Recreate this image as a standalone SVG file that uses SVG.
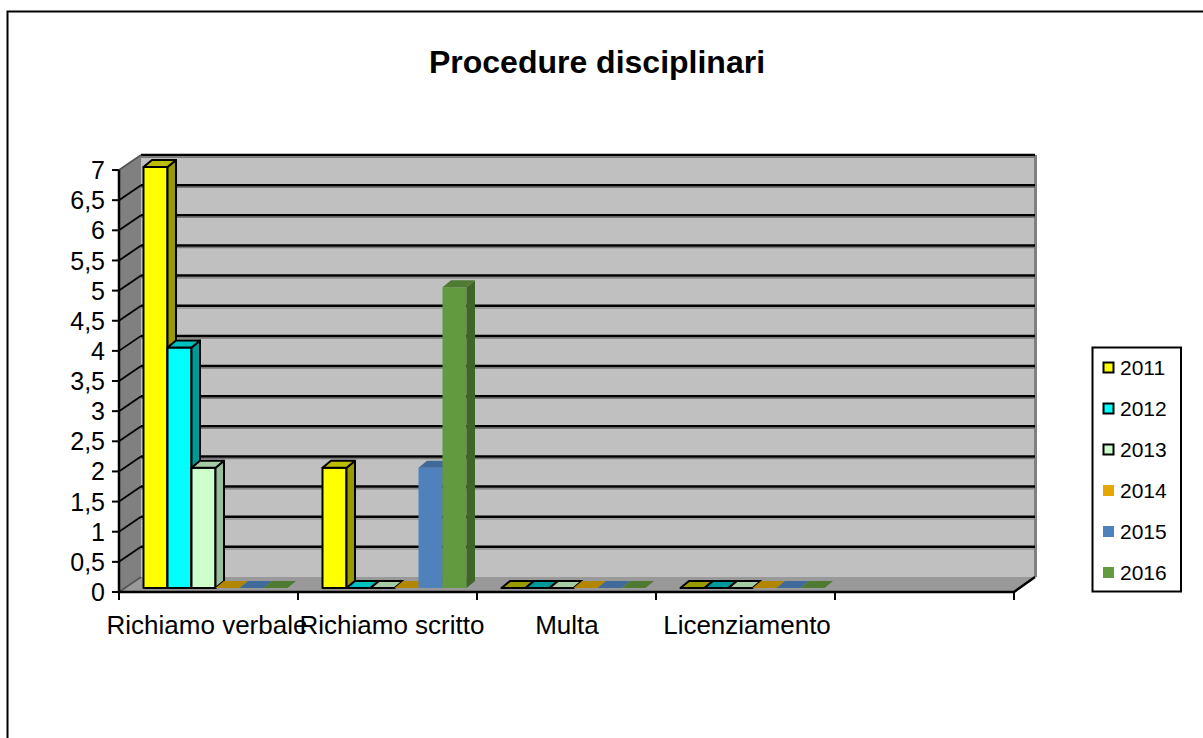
<svg xmlns="http://www.w3.org/2000/svg" width="1203" height="738" viewBox="0 0 1203 738">
<style>
text{font-family:"Liberation Sans",Arial,sans-serif;fill:#000}
.title{font-size:32px;font-weight:bold}
.ylab{font-size:25px;text-anchor:end}
.xlab{font-size:26px;text-anchor:middle}
.leg{font-size:21px}
.grid{stroke:#000;stroke-width:2.5}
.gsh{stroke:#7a7a7a;stroke-width:1.2}
.ax{stroke:#000;stroke-width:2.5;fill:none}
.o{stroke:#000;stroke-width:2;stroke-linejoin:round}
.y1f{fill:#FFFF00}.y1s{fill:#999900}.y1t{fill:#BDBD00}
.y2f{fill:#00FFFF}.y2s{fill:#009999}.y2t{fill:#00C0C0}
.y3f{fill:#CCFFCC}.y3s{fill:#99BF99}.y3t{fill:#A6CCA6}
.y4f{fill:#E6A800}.y4t{fill:#B38600}
.y5f{fill:#4F81BD}.y5s{fill:#3B6190}.y5t{fill:#3F6A9A}
.y6f{fill:#619A3F}.y6s{fill:#3F6528}.y6t{fill:#4E7A32}
</style>
<rect width="1203" height="738" fill="#fff"/>
<path d="M7.5,745 V11.5 H1210" fill="none" stroke="#000" stroke-width="2"/>
<text class="title" x="597" y="73" text-anchor="middle">Procedure disciplinari</text>

<g id="walls">
<polygon points="141,155 1035,155 1035,577 141,577" fill="#C0C0C0"/>
<rect x="1034" y="155" width="3" height="422" fill="#808080"/>
<polygon points="119,170 141,155 141,577 119,592" fill="#808080"/>
<polygon points="119,592 141,577 1035,577 1014,592" fill="#999999"/>
</g>
<g id="gridlines">
<g class="gsh">
<line x1="141" y1="549" x2="1034" y2="549"/><line x1="141" y1="519" x2="1034" y2="519"/><line x1="141" y1="488.8" x2="1034" y2="488.8"/><line x1="141" y1="458.7" x2="1034" y2="458.7"/><line x1="141" y1="428.5" x2="1034" y2="428.5"/><line x1="141" y1="398.4" x2="1034" y2="398.4"/><line x1="141" y1="368.2" x2="1034" y2="368.2"/><line x1="141" y1="338.1" x2="1034" y2="338.1"/><line x1="141" y1="308" x2="1034" y2="308"/><line x1="141" y1="277.8" x2="1034" y2="277.8"/><line x1="141" y1="247.7" x2="1034" y2="247.7"/><line x1="141" y1="217.5" x2="1034" y2="217.5"/><line x1="141" y1="187.4" x2="1034" y2="187.4"/><line x1="141" y1="157.3" x2="1034" y2="157.3"/>
</g>
<g class="grid">
<line x1="141" y1="546.86" x2="1035" y2="546.86"/><line x1="141" y1="516.72" x2="1035" y2="516.72"/><line x1="141" y1="486.58" x2="1035" y2="486.58"/><line x1="141" y1="456.44" x2="1035" y2="456.44"/><line x1="141" y1="426.3" x2="1035" y2="426.3"/><line x1="141" y1="396.16" x2="1035" y2="396.16"/><line x1="141" y1="366.02" x2="1035" y2="366.02"/><line x1="141" y1="335.88" x2="1035" y2="335.88"/><line x1="141" y1="305.74" x2="1035" y2="305.74"/><line x1="141" y1="275.6" x2="1035" y2="275.6"/><line x1="141" y1="245.46" x2="1035" y2="245.46"/><line x1="141" y1="215.32" x2="1035" y2="215.32"/><line x1="141" y1="185.18" x2="1035" y2="185.18"/><line x1="141" y1="155.04" x2="1035" y2="155.04"/>
</g>
<g stroke="#000" stroke-width="1.8">
<line x1="119" y1="561.86" x2="141" y2="546.86"/><line x1="119" y1="531.72" x2="141" y2="516.72"/><line x1="119" y1="501.58" x2="141" y2="486.58"/><line x1="119" y1="471.44" x2="141" y2="456.44"/><line x1="119" y1="441.3" x2="141" y2="426.3"/><line x1="119" y1="411.16" x2="141" y2="396.16"/><line x1="119" y1="381.02" x2="141" y2="366.02"/><line x1="119" y1="350.88" x2="141" y2="335.88"/><line x1="119" y1="320.74" x2="141" y2="305.74"/><line x1="119" y1="290.6" x2="141" y2="275.6"/><line x1="119" y1="260.46" x2="141" y2="245.46"/><line x1="119" y1="230.32" x2="141" y2="215.32"/><line x1="119" y1="200.18" x2="141" y2="185.18"/>
<line x1="119" y1="170.04" x2="141" y2="155.04" stroke="#555"/>
<line x1="119" y1="592" x2="141" y2="577" stroke="#555"/>
</g>
</g>

<g id="axes">
<path class="ax" d="M119,170 V592 H1014 L1035,577"/>
<g stroke="#000" stroke-width="2">
<line x1="112" y1="592" x2="119" y2="592"/><line x1="112" y1="561.86" x2="119" y2="561.86"/><line x1="112" y1="531.72" x2="119" y2="531.72"/><line x1="112" y1="501.58" x2="119" y2="501.58"/><line x1="112" y1="471.44" x2="119" y2="471.44"/><line x1="112" y1="441.3" x2="119" y2="441.3"/><line x1="112" y1="411.16" x2="119" y2="411.16"/><line x1="112" y1="381.02" x2="119" y2="381.02"/><line x1="112" y1="350.88" x2="119" y2="350.88"/><line x1="112" y1="320.74" x2="119" y2="320.74"/><line x1="112" y1="290.6" x2="119" y2="290.6"/><line x1="112" y1="260.46" x2="119" y2="260.46"/><line x1="112" y1="230.32" x2="119" y2="230.32"/><line x1="112" y1="200.18" x2="119" y2="200.18"/><line x1="112" y1="170.04" x2="119" y2="170.04"/>
<line x1="119" y1="592" x2="119" y2="600"/><line x1="298" y1="592" x2="298" y2="600"/><line x1="477" y1="592" x2="477" y2="600"/><line x1="656" y1="592" x2="656" y2="600"/><line x1="835" y1="592" x2="835" y2="600"/><line x1="1014" y1="592" x2="1014" y2="600"/>
</g>
<g class="ylab">
<text x="105" y="601">0</text><text x="105" y="570.9">0,5</text><text x="105" y="540.7">1</text><text x="105" y="510.6">1,5</text><text x="105" y="480.4">2</text><text x="105" y="450.3">2,5</text><text x="105" y="420.2">3</text><text x="105" y="390">3,5</text><text x="105" y="359.9">4</text><text x="105" y="329.7">4,5</text><text x="105" y="299.6">5</text><text x="105" y="269.5">5,5</text><text x="105" y="239.3">6</text><text x="105" y="209.2">6,5</text><text x="105" y="179">7</text>
</g>
</g>

<g id="cat-richiamo-verbale">
<g id="rv-2011" class="o">
<rect class="y1f" x="143.5" y="167" width="24" height="421"/>
<polygon class="y1s" points="167.5,588 167.5,167 176,160 176,581"/>
<polygon class="y1t" points="143.5,167 167.5,167 176,160 152,160"/>
</g>
<g id="rv-2012" class="o">
<rect class="y2f" x="167.5" y="347.4" width="24" height="240.6"/>
<polygon class="y2s" points="191.5,588 191.5,347.4 200,340.4 200,581"/>
<polygon class="y2t" points="167.5,347.4 191.5,347.4 200,340.4 176,340.4"/>
</g>
<g id="rv-2013" class="o">
<rect class="y3f" x="191.5" y="467.7" width="24" height="120.3"/>
<polygon class="y3s" points="215.5,588 215.5,467.7 224,460.7 224,581"/>
<polygon class="y3t" points="191.5,467.7 215.5,467.7 224,460.7 200,460.7"/>
</g>
<polygon id="rv-2014" class="y4t" points="215.5,588 239.5,588 248,581 224,581"/>
<polygon id="rv-2015" class="y5t" points="239.5,588 263.5,588 272,581 248,581"/>
<polygon id="rv-2016" class="y6t" points="263.5,588 287.5,588 296,581 272,581"/>
</g>

<g id="cat-richiamo-scritto">
<g id="rs-2011" class="o">
<rect class="y1f" x="322.5" y="467.7" width="24" height="120.3"/>
<polygon class="y1s" points="346.5,588 346.5,467.7 355,460.7 355,581"/>
<polygon class="y1t" points="322.5,467.7 346.5,467.7 355,460.7 331,460.7"/>
</g>
<polygon id="rs-2012" class="y2t o" points="346.5,588 370.5,588 379,581 355,581"/>
<polygon id="rs-2013" class="y3t o" points="370.5,588 394.5,588 403,581 379,581"/>
<polygon id="rs-2014" class="y4t" points="394.5,588 418.5,588 427,581 403,581"/>
<g id="rs-2015">
<rect class="y5f" x="418.5" y="467.7" width="24" height="120.3"/>
<polygon class="y5s" points="442.5,588 442.5,467.7 451,460.7 451,581"/>
<polygon class="y5t" points="418.5,467.7 442.5,467.7 451,460.7 427,460.7"/>
</g>
<g id="rs-2016">
<rect class="y6f" x="442.5" y="287.3" width="24" height="300.7"/>
<polygon class="y6s" points="466.5,588 466.5,287.3 475,280.3 475,581"/>
<polygon class="y6t" points="442.5,287.3 466.5,287.3 475,280.3 451,280.3"/>
</g>
</g>

<g id="cat-multa">
<polygon class="y1s o" points="501.5,588 525.5,588 534,581 510,581"/>
<polygon class="y2s o" points="525.5,588 549.5,588 558,581 534,581"/>
<polygon class="y3t o" points="549.5,588 573.5,588 582,581 558,581"/>
<polygon class="y4t" points="573.5,588 597.5,588 606,581 582,581"/>
<polygon class="y5t" points="597.5,588 621.5,588 630,581 606,581"/>
<polygon class="y6t" points="621.5,588 645.5,588 654,581 630,581"/>
</g>

<g id="cat-licenziamento">
<polygon class="y1s o" points="680.5,588 704.5,588 713,581 689,581"/>
<polygon class="y2s o" points="704.5,588 728.5,588 737,581 713,581"/>
<polygon class="y3t o" points="728.5,588 752.5,588 761,581 737,581"/>
<polygon class="y4t" points="752.5,588 776.5,588 785,581 761,581"/>
<polygon class="y5t" points="776.5,588 800.5,588 809,581 785,581"/>
<polygon class="y6t" points="800.5,588 824.5,588 833,581 809,581"/>
</g>

<g id="category-labels" class="xlab">
<text x="207" y="634">Richiamo verbale</text>
<text x="392" y="634">Richiamo scritto</text>
<text x="567" y="634">Multa</text>
<text x="747" y="634">Licenziamento</text>
</g>

<g id="legend">
<rect x="1092.5" y="347.5" width="88.5" height="244" fill="#fff" stroke="#000" stroke-width="2"/>
<rect class="y1f" x="1103.5" y="362.5" width="10" height="10" stroke="#000" stroke-width="2"/>
<text class="leg" x="1120" y="375">2011</text>
<rect class="y2f" x="1103.5" y="403.5" width="10" height="10" stroke="#000" stroke-width="2"/>
<text class="leg" x="1120" y="416">2012</text>
<rect class="y3f" x="1103.5" y="444.5" width="10" height="10" stroke="#000" stroke-width="2"/>
<text class="leg" x="1120" y="457">2013</text>
<rect class="y4f" x="1103" y="485" width="11" height="11"/>
<text class="leg" x="1120" y="498">2014</text>
<rect class="y5f" x="1103" y="526" width="11" height="11"/>
<text class="leg" x="1120" y="539">2015</text>
<rect class="y6f" x="1103" y="567" width="11" height="11"/>
<text class="leg" x="1120" y="580">2016</text>
</g>
</svg>
